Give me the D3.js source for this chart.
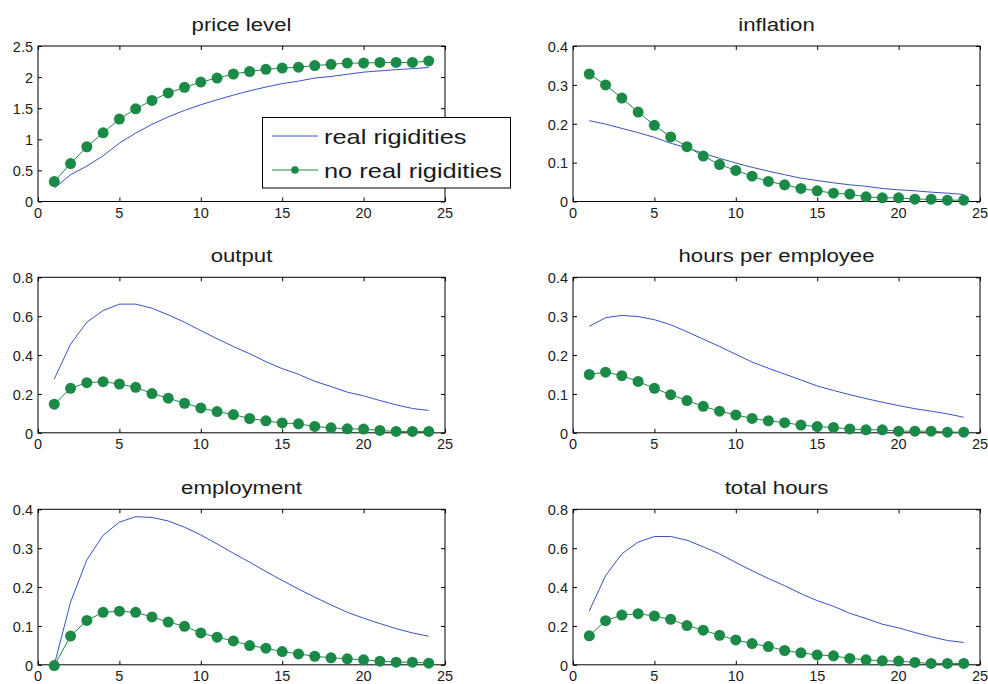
<!DOCTYPE html>
<html>
<head>
<meta charset="utf-8">
<script src="https://cdn.jsdelivr.net/npm/d3@7"></script>
<style>
  html, body { margin: 0; padding: 0; background: #fff; }
  svg { display: block; }
  text { font-family: "Liberation Sans", Arial, Helvetica, sans-serif; fill: #1a1a1a; }
</style>
</head>
<body>
<svg id="chart" width="988" height="684"></svg>
<script>
// ---------------- DATA ----------------
const periods = [1,2,3,4,5,6,7,8,9,10,11,12,13,14,15,16,17,18,19,20,21,22,23,24];
const seriesNames = ["real rigidities", "no real rigidities"];
const xTicks = [0, 5, 10, 15, 20, 25];

const panelTitles = ["price level", "inflation", "output", "hours per employee", "employment", "total hours"];

const priceReal   = [0.215,0.43,0.57,0.735,0.94,1.10,1.24,1.36,1.465,1.555,1.635,1.71,1.78,1.84,1.895,1.935,1.985,2.01,2.045,2.08,2.10,2.12,2.135,2.155];
const priceNoReal = [0.32,0.61,0.88,1.105,1.325,1.49,1.625,1.745,1.835,1.92,1.985,2.05,2.09,2.125,2.145,2.16,2.185,2.205,2.225,2.225,2.235,2.235,2.235,2.26];

const inflReal    = [0.208,0.199,0.188,0.177,0.165,0.150,0.138,0.124,0.111,0.099,0.088,0.078,0.069,0.060,0.054,0.048,0.043,0.039,0.0335,0.030,0.0275,0.024,0.0215,0.018];
const inflNoReal  = [0.328,0.300,0.266,0.230,0.196,0.166,0.141,0.117,0.095,0.080,0.065,0.0515,0.043,0.0335,0.0275,0.0215,0.019,0.012,0.0095,0.0095,0.006,0.006,0.0035,0.0035];

const outReal     = [0.277,0.456,0.569,0.629,0.662,0.662,0.641,0.607,0.569,0.526,0.484,0.444,0.407,0.366,0.330,0.301,0.265,0.238,0.209,0.190,0.166,0.144,0.125,0.115];
const outNoReal   = [0.147,0.229,0.258,0.263,0.251,0.234,0.202,0.178,0.152,0.128,0.109,0.094,0.0735,0.0615,0.051,0.046,0.0325,0.0256,0.0205,0.019,0.012,0.007,0.007,0.007];

const hpeReal     = [0.274,0.296,0.302,0.299,0.291,0.278,0.260,0.241,0.222,0.202,0.182,0.166,0.151,0.136,0.1205,0.109,0.098,0.088,0.0786,0.070,0.062,0.0556,0.0487,0.040];
const hpeNoReal   = [0.150,0.156,0.147,0.132,0.1145,0.098,0.083,0.068,0.0556,0.046,0.037,0.031,0.026,0.020,0.016,0.0137,0.010,0.0077,0.0077,0.0043,0.0043,0.0043,0.0017,0.0017];

const empReal     = [0.0,0.161,0.270,0.333,0.367,0.381,0.379,0.370,0.354,0.334,0.311,0.287,0.264,0.240,0.217,0.195,0.174,0.154,0.135,0.120,0.106,0.093,0.082,0.0735];
const empNoReal   = [-0.002,0.074,0.114,0.135,0.138,0.135,0.123,0.110,0.099,0.082,0.071,0.0615,0.0496,0.0427,0.034,0.028,0.022,0.018,0.0154,0.0128,0.0094,0.0068,0.0068,0.0043];

const totReal     = [0.277,0.458,0.571,0.631,0.660,0.660,0.641,0.607,0.571,0.526,0.484,0.444,0.407,0.366,0.330,0.301,0.265,0.238,0.209,0.190,0.166,0.144,0.125,0.115];
const totNoReal   = [0.149,0.227,0.256,0.263,0.251,0.234,0.202,0.178,0.152,0.128,0.109,0.094,0.0735,0.0615,0.051,0.046,0.0325,0.0256,0.0205,0.019,0.012,0.007,0.007,0.007];

const yTicksPrice = [0, 0.5, 1, 1.5, 2, 2.5];
const yTicksTenth = [0, 0.1, 0.2, 0.3, 0.4];
const yTicksFifth = [0, 0.2, 0.4, 0.6, 0.8];

const yTickLabelsPrice = ["0", "0.5", "1", "1.5", "2", "2.5"];
const yTickLabelsTenth = ["0", "0.1", "0.2", "0.3", "0.4"];
const yTickLabelsFifth = ["0", "0.2", "0.4", "0.6", "0.8"];

// ---------------- LAYOUT / STYLE ----------------
const colors = { real: "#3a52c4", noReal: "#1b8a47" };
const colLeft = [38, 573];
const rowTop = [46, 277.3, 509.3];
const plotW = 407;
const plotH = 155.5;

const panels = [
  { title: panelTitles[0], real: priceReal, noReal: priceNoReal, yTicks: yTicksPrice, yLabels: yTickLabelsPrice, legend: true },
  { title: panelTitles[1], real: inflReal,  noReal: inflNoReal,  yTicks: yTicksTenth, yLabels: yTickLabelsTenth },
  { title: panelTitles[2], real: outReal,   noReal: outNoReal,   yTicks: yTicksFifth, yLabels: yTickLabelsFifth },
  { title: panelTitles[3], real: hpeReal,   noReal: hpeNoReal,   yTicks: yTicksTenth, yLabels: yTickLabelsTenth },
  { title: panelTitles[4], real: empReal,   noReal: empNoReal,   yTicks: yTicksTenth, yLabels: yTickLabelsTenth },
  { title: panelTitles[5], real: totReal,   noReal: totNoReal,   yTicks: yTicksFifth, yLabels: yTickLabelsFifth }
];

const svg = d3.select("#chart");
const TL = 4; // tick length

panels.forEach((p, i) => {
  const left = colLeft[i % 2];
  const top = rowTop[Math.floor(i / 2)];
  const g = svg.append("g").attr("transform", `translate(${left},${top})`);

  const x = d3.scaleLinear().domain([0, 25]).range([0, plotW]);
  const yMax = p.yTicks[p.yTicks.length - 1];
  const y = d3.scaleLinear().domain([0, yMax]).range([plotH, 0]);

  // inward ticks (MATLAB style, mirrored)
  const axB = d3.axisBottom(x).tickValues(xTicks).tickSize(-TL).tickFormat("");
  const axT = d3.axisTop(x).tickValues(xTicks).tickSize(-TL).tickFormat("");
  const axL = d3.axisLeft(y).tickValues(p.yTicks).tickSize(-TL).tickFormat("");
  const axR = d3.axisRight(y).tickValues(p.yTicks).tickSize(-TL).tickFormat("");

  [[axB, `translate(0,${plotH})`], [axT, "translate(0,0)"], [axL, "translate(0,0)"], [axR, `translate(${plotW},0)`]]
    .forEach(([ax, tr]) => {
      const a = g.append("g").attr("transform", tr).call(ax);
      a.select(".domain").remove();
      a.selectAll(".tick line").attr("stroke", "#000").attr("stroke-width", 1);
    });

  // box
  g.append("rect").attr("x", 0).attr("y", 0).attr("width", plotW).attr("height", plotH)
    .attr("fill", "none").attr("stroke", "#000").attr("stroke-width", 1);

  // tick labels
  g.selectAll(".xl").data(xTicks).enter().append("text")
    .attr("x", d => x(d)).attr("y", plotH + 16.5)
    .attr("text-anchor", "middle").style("font-size", "14.5px")
    .text(d => String(d));
  g.selectAll(".yl").data(p.yTicks).enter().append("text")
    .attr("x", -5).attr("y", d => y(d)).attr("dy", "0.4em")
    .attr("text-anchor", "end").style("font-size", "14.5px")
    .text((d, k) => p.yLabels[k]);

  // title
  g.append("text")
    .attr("transform", `translate(${plotW / 2},-15) scale(1.2,1)`)
    .attr("text-anchor", "middle").style("font-size", "18.5px")
    .text(p.title);

  // lines
  const line = d3.line().x((d, k) => x(periods[k])).y(d => y(d));
  g.append("path").datum(p.real).attr("d", line)
    .attr("fill", "none").attr("stroke", colors.real).attr("stroke-width", 1);
  g.append("path").datum(p.noReal).attr("d", line)
    .attr("fill", "none").attr("stroke", colors.noReal).attr("stroke-width", 1);
  g.selectAll(".dot").data(p.noReal).enter().append("circle")
    .attr("cx", (d, k) => x(periods[k])).attr("cy", d => y(d)).attr("r", 5.5)
    .attr("fill", colors.noReal);

  // legend
  if (p.legend) {
    const lg = svg.append("g");
    const lx = 262.5, ly = 117.5, lw = 248, lh = 70.5;
    lg.append("rect").attr("x", lx).attr("y", ly).attr("width", lw).attr("height", lh)
      .attr("fill", "#fff").attr("stroke", "#000").attr("stroke-width", 1);
    const rows = [
      { name: seriesNames[0], color: colors.real, marker: false, yy: 136 },
      { name: seriesNames[1], color: colors.noReal, marker: true, yy: 170 }
    ];
    rows.forEach(r => {
      lg.append("line").attr("x1", 272).attr("x2", 318).attr("y1", r.yy).attr("y2", r.yy)
        .attr("stroke", r.color).attr("stroke-width", 1);
      if (r.marker) {
        lg.append("circle").attr("cx", 295).attr("cy", r.yy).attr("r", 3.8).attr("fill", r.color);
      }
      lg.append("text")
        .attr("transform", `translate(324,${r.yy + 8}) scale(1.21,1)`)
        .style("font-size", "21px")
        .text(r.name);
    });
  }
});
</script>
</body>
</html>
